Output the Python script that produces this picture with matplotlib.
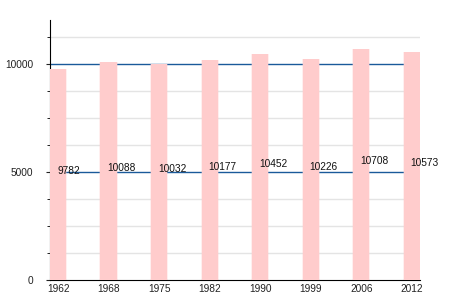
import numpy as np
import matplotlib
matplotlib.use('Agg')
import matplotlib.pyplot as plt

plt.rcParams['font.family'] = ['Liberation Sans', 'DejaVu Sans']

# Population by census year
years = ['1962', '1968', '1975', '1982', '1990', '1999', '2006', '2012']
population = [9782, 10088, 10032, 10177, 10452, 10226, 10708, 10573]

fig = plt.figure(figsize=(4.5, 3), dpi=100)
ax = fig.add_axes([0.111, 0.0667, 0.822, 0.866])

x = np.arange(len(years))

# light grid every 1250, blue lines at 5000 / 10000
for y in np.arange(1250, 12000, 1250):
    if y % 5000 == 0:
        ax.axhline(y, color='#1a5a9a', linewidth=1, zorder=1)
    else:
        ax.axhline(y, color='#e4e4e4', linewidth=1, zorder=1)

# soft (blurred looking) bars
ax.bar(x, population, width=0.36, color='#ffcccc', alpha=0.3, linewidth=0, zorder=2)
ax.bar(x, population, width=0.32, color='#ffcccc', linewidth=0, zorder=3)

for xi, v in zip(x, population):
    ax.text(xi - 0.02, v / 2, str(v), ha='left', va='baseline', fontsize=7.3, color='#111111', zorder=4)

ax.set_xlim(-0.16, 7.16)
ax.set_ylim(0, 12040)
ax.set_xticks(x)
ax.set_xticklabels(years)
ax.set_yticks([0, 5000, 10000])
ax.set_yticks(np.arange(1250, 12000, 1250), minor=True)
ax.tick_params(axis='x', length=0, labelsize=7.3, pad=3, colors='#222222')
ax.tick_params(axis='y', which='major', length=3, labelsize=7.3, pad=9, colors='#222222')
ax.tick_params(axis='y', which='minor', length=2)

for side in ['top', 'right']:
    ax.spines[side].set_visible(False)
ax.spines['left'].set_color('black')
ax.spines['bottom'].set_color('black')

plt.savefig('out.png', dpi=100)
